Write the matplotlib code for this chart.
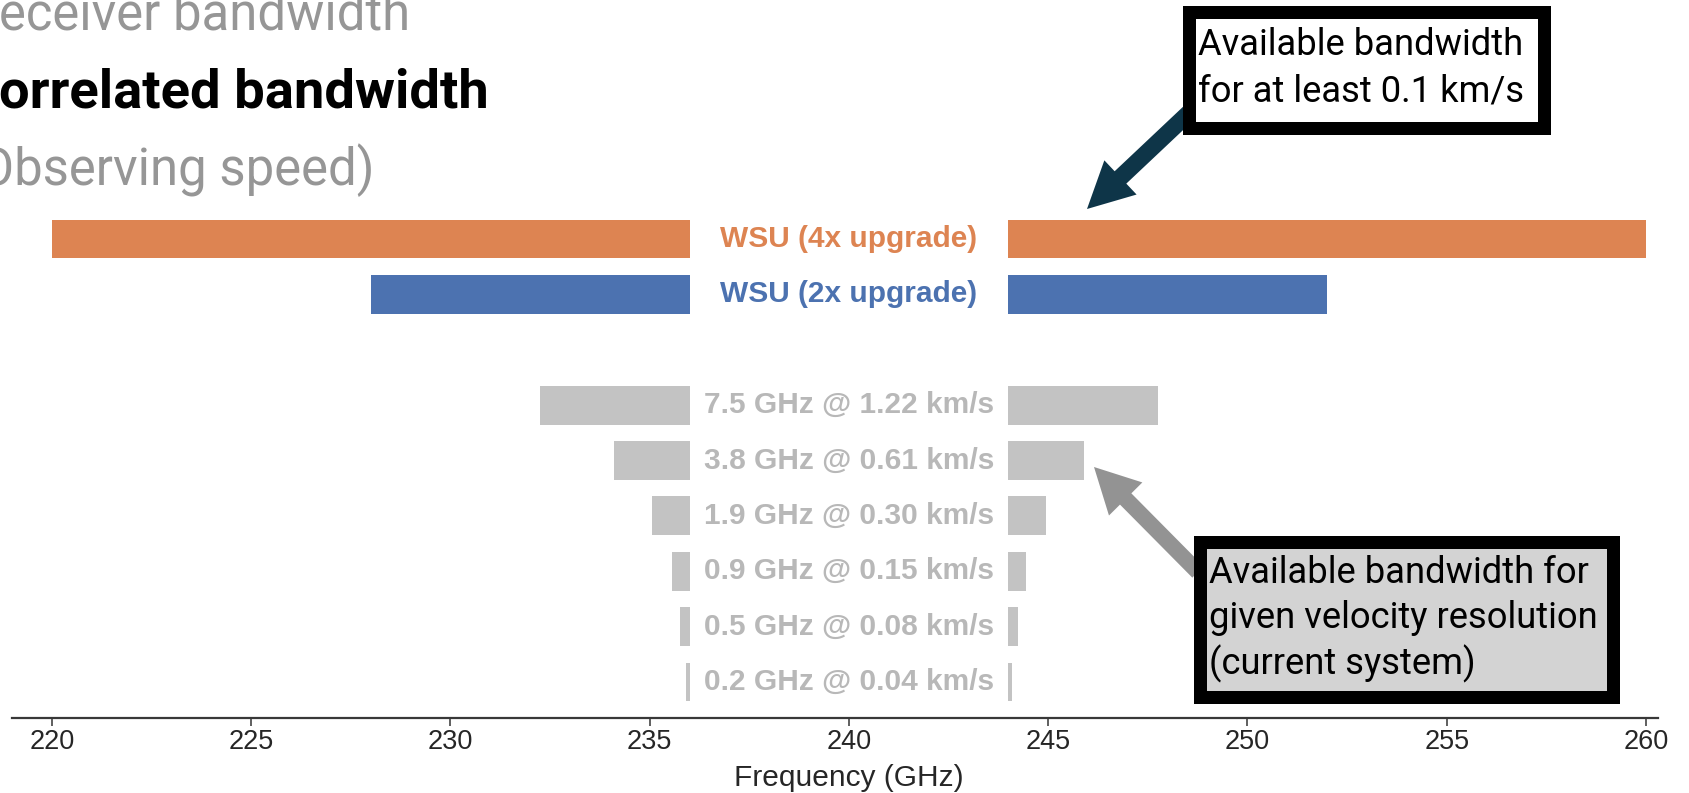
import matplotlib
matplotlib.use("Agg")
import matplotlib.pyplot as plt
from matplotlib.patches import Rectangle, FancyArrow
from matplotlib.transforms import blended_transform_factory

# ---------------- data ----------------
lo_freq = 240.0          # GHz, centre between sidebands
if_low = 4.0             # GHz, inner edge offset of each sideband
wsu_labels = ["WSU (4x upgrade)", "WSU (2x upgrade)"]
wsu_sideband_bw = [16.0, 8.0]          # GHz per sideband
wsu_colors = ["#DD8452", "#4C72B0"]
cur_bandwidth = [7.5, 3.8, 1.9, 0.9, 0.5, 0.2]      # GHz total (two sidebands)
cur_velres = [1.22, 0.61, 0.30, 0.15, 0.08, 0.04]   # km/s
x_ticks = [220, 225, 230, 235, 240, 245, 250, 255, 260]
x_label = "Frequency (GHz)"
top_lines = ["eceiver bandwidth", "orrelated bandwidth", "Observing speed)"]
note_top = "Available bandwidth\nfor at least 0.1 km/s"
note_bottom = "Available bandwidth for\ngiven velocity resolution\n(current system)"

W, H = 1690, 793
fig = plt.figure(figsize=(W / 100, H / 100), dpi=100)
fig.patch.set_facecolor("white")

ax_top_px, ax_bot_px = 190, 718
ax_left_px, ax_right_px = 12, 1658
ax = fig.add_axes([ax_left_px / W, (H - ax_bot_px) / H,
                   (ax_right_px - ax_left_px) / W, (ax_bot_px - ax_top_px) / H])

bar_h = 0.7
lab_font = dict(fontsize=21.5, fontweight="bold", family=["Liberation Sans", "DejaVu Sans"])

# WSU rows
for i, (lab, bw, col) in enumerate(zip(wsu_labels, wsu_sideband_bw, wsu_colors)):
    ax.barh(i, bw, left=lo_freq - if_low - bw, height=bar_h, color=col, linewidth=0)
    ax.barh(i, bw, left=lo_freq + if_low, height=bar_h, color=col, linewidth=0)
    ax.text(lo_freq, i, lab, ha="center", va="center", color=col, **lab_font)

# current-system rows
gray_bar = "#C3C3C3"
gray_txt = "#B8B8B8"
start_row = len(wsu_labels) + 1
for j, (bw, vr) in enumerate(zip(cur_bandwidth, cur_velres)):
    r = start_row + j
    half = bw / 2.0
    ax.barh(r, half, left=lo_freq - if_low - half, height=bar_h, color=gray_bar, linewidth=0)
    ax.barh(r, half, left=lo_freq + if_low, height=bar_h, color=gray_bar, linewidth=0)
    ax.text(lo_freq, r, f"{bw:.1f} GHz @ {vr:.2f} km/s", ha="center", va="center",
            color=gray_txt, **lab_font)

n_rows = start_row + len(cur_bandwidth)
slot_px = 55.4
ax.set_ylim(n_rows - 1 + (ax_bot_px - 682) / slot_px, -(239 - ax_top_px) / slot_px)
px_per_ghz = (1646 - 52) / 40.0
ax.set_xlim(220 - (52 - ax_left_px) / px_per_ghz, 260 + (ax_right_px - 1646) / px_per_ghz)

for s in ["top", "right", "left"]:
    ax.spines[s].set_visible(False)
ax.spines["bottom"].set_color("#383838")
ax.spines["bottom"].set_linewidth(1.6)
ax.set_yticks([])
ax.set_xticks(x_ticks)
ax.set_xticklabels([str(t) for t in x_ticks])
ax.tick_params(axis="x", length=6, width=1.2, color="#444444", pad=2,
               labelsize=19.5, labelcolor="#262626")
for tl in ax.get_xticklabels():
    tl.set_family(["Liberation Sans", "DejaVu Sans"])
ax.set_xlabel(x_label, fontsize=21.5, color="#262626", family=["Liberation Sans", "DejaVu Sans"])
ax.xaxis.set_label_coords(lo_freq, -(764 - ax_bot_px) / (ax_bot_px - ax_top_px),
                          transform=blended_transform_factory(ax.transData, ax.transAxes))
ax.patch.set_alpha(0)

# ---------------- overlay (pixel coordinates) ----------------
ov = fig.add_axes([0, 0, 1, 1])
ov.set_xlim(0, W)
ov.set_ylim(H, 0)
ov.axis("off")
ov.patch.set_alpha(0)

renderer = fig.canvas.get_renderer()


def fit_width(t, target):
    w = t.get_window_extent(renderer).width
    t.set_fontsize(t.get_fontsize() * target / w)


office = ["Roboto", "DejaVu Sans"]
t1 = ov.text(410, 30, top_lines[0], ha="right", va="baseline", color="#969696",
             family=office, fontsize=36)
fit_width(t1, 412)
t2 = ov.text(489, 108, top_lines[1], ha="right", va="baseline", color="black",
             family=office, fontweight="bold", fontsize=36)
fit_width(t2, 490)
ov.text(375, 185, top_lines[2], ha="right", va="baseline", color="#969696",
        family=office, fontsize=t1.get_fontsize())

# arrows (drawn beneath boxes)
ov.add_patch(FancyArrow(1192, 110, 1087 - 1192, 209 - 110, width=17, head_width=47,
                        head_length=46, length_includes_head=True,
                        color="#0E3548", linewidth=0, zorder=2))
ov.add_patch(FancyArrow(1198, 572, 1094 - 1198, 467 - 572, width=16, head_width=47,
                        head_length=45, length_includes_head=True,
                        color="#939393", linewidth=0, zorder=2))

border = 13
lw_pt = border * 72 / 100


def box(x0, y0, x1, y1, fc):
    ov.add_patch(Rectangle((x0 + border / 2, y0 + border / 2), x1 - x0 - border,
                           y1 - y0 - border, facecolor=fc, edgecolor="black",
                           linewidth=lw_pt, joinstyle="miter", zorder=3))


box(1183, 5, 1551, 134, "white")
box(1194, 535, 1620, 703, "#D3D3D3")

n1 = note_top.split("\n")
a = ov.text(1198, 55, n1[0], ha="left", va="baseline", color="black", family=office,
            fontsize=22, zorder=4)
fit_width(a, 325)
fs = a.get_fontsize()
ov.text(1198, 101, n1[1], ha="left", va="baseline", color="black", family=office,
        fontsize=fs, zorder=4)
n2 = note_bottom.split("\n")
for k, line in enumerate(n2):
    ov.text(1209, 583 + 45.5 * k, line, ha="left", va="baseline", color="black",
            family=office, fontsize=fs, zorder=4)

fig.savefig("out.png", dpi=100)
